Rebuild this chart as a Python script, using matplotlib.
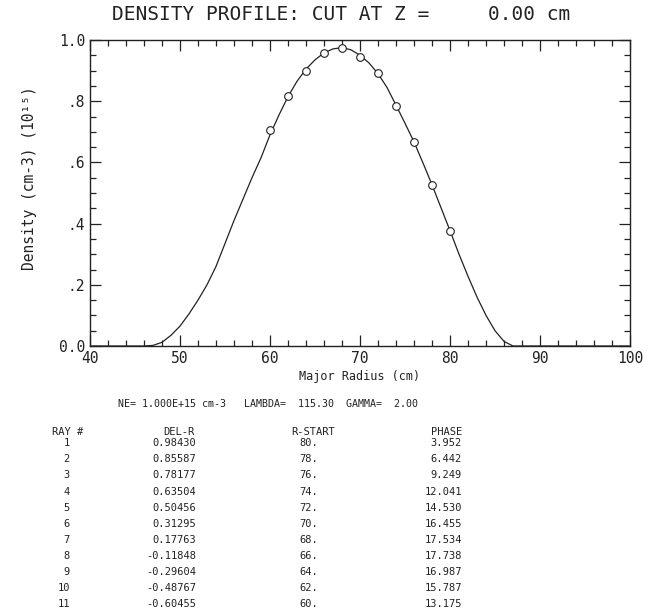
import numpy as np
import matplotlib.pyplot as plt
from matplotlib.ticker import MultipleLocator, FixedLocator

# profile curve
curve_r = [40, 46, 47, 48, 49, 50, 51, 52, 53, 54, 55, 56, 57, 58, 59, 60,
           61, 62, 63, 64, 65, 66, 67, 68, 69, 70, 71, 72, 73, 74, 75, 76,
           77, 78, 79, 80, 81, 82, 83, 84, 85, 86, 87, 100]
curve_n = [0.0, 0.0, 0.002, 0.012, 0.035, 0.065, 0.105, 0.15, 0.20, 0.26,
           0.335, 0.41, 0.48, 0.55, 0.615, 0.69, 0.755, 0.815, 0.865, 0.905,
           0.935, 0.958, 0.971, 0.975, 0.968, 0.95, 0.925, 0.89, 0.845, 0.787,
           0.728, 0.667, 0.598, 0.527, 0.452, 0.377, 0.30, 0.228, 0.16, 0.10,
           0.05, 0.015, 0.0, 0.0]

# ray start points (circles)
ray_r = [60, 62, 64, 66, 68, 70, 72, 74, 76, 78, 80]
ray_n = [0.705, 0.818, 0.900, 0.956, 0.975, 0.946, 0.892, 0.783, 0.667, 0.526, 0.376]

# table below the plot
ray_no = [1, 2, 3, 4, 5, 6, 7, 8, 9, 10, 11]
del_r = ["0.98430", "0.85587", "0.78177", "0.63504", "0.50456", "0.31295",
         "0.17763", "-0.11848", "-0.29604", "-0.48767", "-0.60455"]
r_start = ["80.", "78.", "76.", "74.", "72.", "70.", "68.", "66.", "64.", "62.", "60."]
phase = ["3.952", "6.442", "9.249", "12.041", "14.530", "16.455", "17.534",
         "17.738", "16.987", "15.787", "13.175"]

mono = "DejaVu Sans Mono"
ink = "#222222"

fig = plt.figure(figsize=(6.5, 6.15), dpi=100)
ax = fig.add_axes([90/650, 1-346/615, 540/650, 306/615])

ax.plot(curve_r, curve_n, color=ink, lw=0.9)
ax.plot(ray_r, ray_n, "o", mfc="white", mec=ink, ms=5.5, mew=0.8)

ax.set_xlim(40, 100)
ax.set_ylim(0, 1.0)
ax.xaxis.set_major_locator(MultipleLocator(10))
ax.xaxis.set_minor_locator(MultipleLocator(2))
ax.yaxis.set_major_locator(FixedLocator([0, 0.2, 0.4, 0.6, 0.8, 1.0]))
ax.yaxis.set_minor_locator(MultipleLocator(0.05))
ax.set_yticklabels(["0.0", ".2", ".4", ".6", ".8", "1.0"])
ax.tick_params(which="both", direction="in", top=True, right=True, colors=ink,
               labelsize=10.5, width=0.9)
ax.tick_params(which="major", length=8)
ax.tick_params(which="minor", length=4)
for lab in ax.get_xticklabels() + ax.get_yticklabels():
    lab.set_family(mono)
for s in ax.spines.values():
    s.set_color(ink)
    s.set_linewidth(1.0)

fig.text(341/650, 1-15/615, "DENSITY PROFILE: CUT AT Z =     0.00 cm",
         family=mono, fontsize=14, ha="center", va="center", color=ink)
ax.set_xlabel("Major Radius (cm)", family=mono, fontsize=8.5, color=ink, labelpad=3)
fig.text(30/650, 1-178/615, "Density (cm-3) (10¹⁵)", family=mono, fontsize=10.5,
         rotation=90, ha="center", va="center", color=ink)

fig.text(118/650, 1-404/615,
         "NE= 1.000E+15 cm-3   LAMBDA=  115.30  GAMMA=  2.00",
         family=mono, fontsize=7.2, ha="left", va="center", color=ink)

ty0, dy = 432, 16.1
kw = dict(family=mono, fontsize=7.5, va="center", color=ink)
fig.text(52/650, 1-ty0/615, "RAY #", ha="left", **kw)
fig.text(194/650, 1-ty0/615, "DEL-R", ha="right", **kw)
fig.text(335/650, 1-ty0/615, "R-START", ha="right", **kw)
fig.text(462/650, 1-ty0/615, "PHASE", ha="right", **kw)
for i in range(len(ray_no)):
    y = 1 - (ty0 + dy*(i+0.7))/615
    fig.text(70/650, y, str(ray_no[i]), ha="right", **kw)
    fig.text(196/650, y, del_r[i], ha="right", **kw)
    fig.text(318/650, y, r_start[i], ha="right", **kw)
    fig.text(462/650, y, phase[i], ha="right", **kw)

fig.savefig("out.png", dpi=100)
